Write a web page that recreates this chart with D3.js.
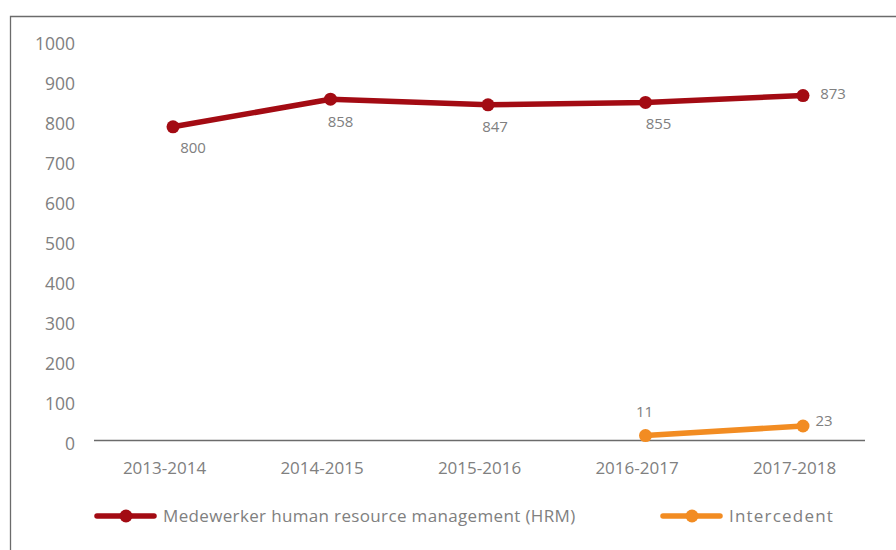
<!DOCTYPE html>
<html>
<head>
<meta charset="utf-8">
<script src="https://cdn.jsdelivr.net/npm/d3@7"></script>
<style>
  html, body { margin: 0; padding: 0; background: #fff; }
  svg text { font-family: "Open Sans", sans-serif; fill: #808080; }
</style>
</head>
<body>
<svg id="chart"></svg>
<script>
// data
const years = ['2013-2014', '2014-2015', '2015-2016', '2016-2017', '2017-2018'];
const yTicks = [0, 100, 200, 300, 400, 500, 600, 700, 800, 900, 1000];

// plotted position as drawn in the picture, and the label printed beside it
const hrmValues = [783, 852, 838, 844, 861];
const hrmLabels = ['800', '858', '847', '855', '873'];
const interValues = [null, null, null, 11, 35];
const interLabels = [null, null, null, '11', '23'];

const seriesNames = ['Medewerker human resource management (HRM)', 'Intercedent'];

// build
const width = 896;
const height = 550;
const red = '#a30b13';
const orange = '#f28c22';

const svg = d3.select('#chart')
  .attr('width', width)
  .attr('height', height);

// frame
svg.append('path')
  .attr('d', `M10.5,${height} V16.5 H${width}`)
  .attr('fill', 'none')
  .attr('stroke', '#6b6b6b')
  .attr('stroke-width', 1.3);

const yScale = d3.scaleLinear()
  .domain([0, 1000])
  .range([440, 40]);

const xScale = d3.scalePoint()
  .domain(years)
  .range([173, 803]);

// y axis labels
const yAxis = svg.append('g')
  .attr('transform', 'translate(75, 0)')
  .call(d3.axisLeft(yScale).tickValues(yTicks).tickFormat(d3.format('d')).tickSize(0).tickPadding(0));
yAxis.select('.domain').remove();
yAxis.selectAll('text')
  .attr('dy', '0.38em')
  .attr('y', 3)
  .style('font-size', '17.5px')
  .style('fill', '#808080')
  .style('font-family', '"Open Sans", sans-serif');

// x baseline
svg.append('line')
  .attr('x1', 94).attr('x2', 865)
  .attr('y1', yScale(0) + 0.5).attr('y2', yScale(0) + 0.5)
  .attr('stroke', '#6b6b6b')
  .attr('stroke-width', 1.3);

// x axis labels
const xAxis = svg.append('g')
  .attr('transform', `translate(-9, ${yScale(0)})`)
  .call(d3.axisBottom(xScale).tickSize(0).tickPadding(0));
xAxis.select('.domain').remove();
xAxis.selectAll('text')
  .attr('y', 28)
  .attr('dy', '0.35em')
  .style('font-size', '17px')
  .style('fill', '#808080')
  .style('font-family', '"Open Sans", sans-serif');

function drawSeries(values, labels, color, placement) {
  const pts = years.map((y, i) => ({ year: y, value: values[i], label: labels[i], place: placement[i] }))
    .filter((d) => d.value !== null);

  const line = d3.line()
    .x((d) => xScale(d.year))
    .y((d) => yScale(d.value));

  svg.append('path')
    .datum(pts)
    .attr('d', line)
    .attr('fill', 'none')
    .attr('stroke', color)
    .attr('stroke-width', 5.5)
    .attr('stroke-linejoin', 'round');

  svg.selectAll(null)
    .data(pts)
    .enter()
    .append('circle')
    .attr('cx', (d) => xScale(d.year))
    .attr('cy', (d) => yScale(d.value))
    .attr('r', 6.5)
    .attr('fill', color);

  svg.selectAll(null)
    .data(pts)
    .enter()
    .append('text')
    .attr('x', (d) => xScale(d.year) + d.place[0])
    .attr('y', (d) => yScale(d.value) + d.place[1])
    .attr('dy', '0.35em')
    .attr('text-anchor', 'middle')
    .style('font-size', '15px')
    .text((d) => d.label);
}

drawSeries(hrmValues, hrmLabels, red,
  [[20, 21], [10, 23], [7, 22], [13, 21], [30, -2]]);
drawSeries(interValues, interLabels, orange,
  [null, null, null, [-1, -24], [21, -5]]);

// legend
const legend = [
  { name: seriesNames[0], color: red, x: 97, spacing: 0.35 },
  { name: seriesNames[1], color: orange, x: 663, spacing: 1.2 }
];
const lg = svg.selectAll(null)
  .data(legend)
  .enter()
  .append('g')
  .attr('transform', (d) => `translate(${d.x}, 516)`);
lg.append('line')
  .attr('x1', 0).attr('x2', 57)
  .attr('stroke', (d) => d.color)
  .attr('stroke-width', 5.5)
  .attr('stroke-linecap', 'round');
lg.append('circle')
  .attr('cx', 29)
  .attr('r', 6.5)
  .attr('fill', (d) => d.color);
lg.append('text')
  .attr('x', 66)
  .attr('dy', '0.35em')
  .style('font-size', '17px')
  .style('letter-spacing', (d) => `${d.spacing}px`)
  .text((d) => d.name);
</script>
</body>
</html>
